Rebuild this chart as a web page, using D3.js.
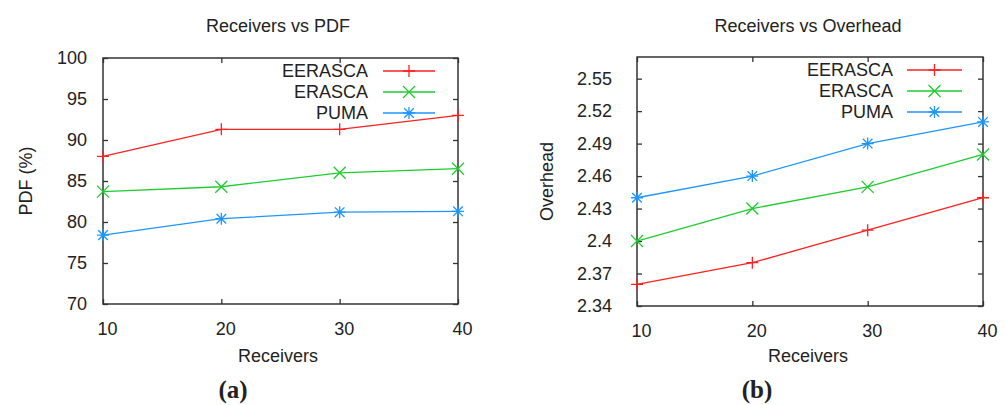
<!DOCTYPE html>
<html>
<head>
<meta charset="utf-8">
<script src="https://cdn.jsdelivr.net/npm/d3@7"></script>
<style>
  body { margin: 0; background: #fff; }
  text { font-family: "Liberation Sans", Arial, sans-serif; fill: #222; }
</style>
</head>
<body>
<div id="chart"></div>
<script>
const receivers = [10, 20, 30, 40];
const seriesNames = ["EERASCA", "ERASCA", "PUMA"];

// panel (a) PDF (%)
const pdfEerasca = [88, 91.3, 91.3, 93];
const pdfErasca = [83.7, 84.3, 86, 86.5];
const pdfPuma = [78.4, 80.4, 81.2, 81.3];
const pdfTicks = [70, 75, 80, 85, 90, 95, 100];

// panel (b) Overhead
const ovEerasca = [2.36, 2.38, 2.41, 2.44];
const ovErasca = [2.40, 2.43, 2.45, 2.48];
const ovPuma = [2.44, 2.46, 2.49, 2.51];
const ovTicks = [2.34, 2.37, 2.4, 2.43, 2.46, 2.49, 2.52, 2.55];

const colors = ["#ff2020", "#1ecc30", "#1e96ff"];
const markers = ["plus", "cross", "star"];

const svg = d3.select("#chart").append("svg")
    .attr("width", 1005).attr("height", 405);

function marker(g, type, x, y, color) {
    const s = 6;
    const p = d3.path();
    if (type == "plus" || type == "star") {
        p.moveTo(x - s, y); p.lineTo(x + s, y);
        p.moveTo(x, y - s); p.lineTo(x, y + s);
    }
    if (type == "cross" || type == "star") {
        const c = type == "star" ? s * 0.8 : s;
        p.moveTo(x - c, y - c); p.lineTo(x + c, y + c);
        p.moveTo(x - c, y + c); p.lineTo(x + c, y - c);
    }
    g.append("path").attr("d", p.toString())
        .attr("stroke", color).attr("stroke-width", 1.3).attr("fill", "none");
}

function panel(cfg) {
    const g = svg.append("g");
    const x = d3.scaleLinear().domain([10, 40]).range([cfg.left, cfg.right]);
    const y = d3.scaleLinear().domain(cfg.domain).range([cfg.bottom, cfg.top]);

    // frame
    g.append("rect")
        .attr("x", cfg.left).attr("y", cfg.top)
        .attr("width", cfg.right - cfg.left).attr("height", cfg.bottom - cfg.top)
        .attr("fill", "none").attr("stroke", "#333").attr("stroke-width", 1.5);

    // axes with inward ticks, mirrored (gnuplot style)
    const yAxisL = d3.axisLeft(y).tickValues(cfg.ticks).tickSize(-5).tickFormat(cfg.fmt).tickPadding(cfg.yPad);
    const yAxisR = d3.axisRight(y).tickValues(cfg.ticks).tickSize(-5).tickFormat("");
    const xAxisB = d3.axisBottom(x).tickValues(receivers).tickSize(-5).tickFormat(d3.format("d")).tickPadding(18);
    const xAxisT = d3.axisTop(x).tickValues(receivers).tickSize(-5).tickFormat("");

    const ga = [
        g.append("g").attr("transform", "translate(" + cfg.left + ",0)").call(yAxisL),
        g.append("g").attr("transform", "translate(" + cfg.right + ",0)").call(yAxisR),
        g.append("g").attr("transform", "translate(0," + cfg.bottom + ")").call(xAxisB),
        g.append("g").attr("transform", "translate(0," + cfg.top + ")").call(xAxisT)
    ];
    ga.forEach(a => {
        a.select(".domain").remove();
        a.selectAll("line").attr("stroke", "#333").attr("stroke-width", 1.3);
        a.selectAll("text").style("font-size", "18px").attr("fill", "#222")
            .style("font-family", "Liberation Sans, Arial, sans-serif");
    });
    ga[2].selectAll("text").attr("dx", 4);

    // series
    cfg.series.forEach((vals, i) => {
        const line = d3.line().x((d, j) => x(receivers[j])).y(d => y(d));
        g.append("path").datum(vals).attr("d", line)
            .attr("fill", "none").attr("stroke", colors[i]).attr("stroke-width", 1.3);
        vals.forEach((v, j) => marker(g, markers[i], x(receivers[j]), y(v), colors[i]));
    });

    // legend
    seriesNames.forEach((name, i) => {
        const ly = cfg.legY + i * 21;
        g.append("text").attr("x", cfg.legText).attr("y", ly + 6)
            .attr("text-anchor", "end").style("font-size", "18px").text(name);
        g.append("line").attr("x1", cfg.legLine[0]).attr("x2", cfg.legLine[1])
            .attr("y1", ly).attr("y2", ly)
            .attr("stroke", colors[i]).attr("stroke-width", 1.3);
        marker(g, markers[i], (cfg.legLine[0] + cfg.legLine[1]) / 2, ly, colors[i]);
    });

    // titles and labels
    g.append("text").attr("x", cfg.titleX).attr("y", 32).attr("text-anchor", "middle")
        .style("font-size", "18px").text(cfg.title);
    g.append("text").attr("x", cfg.titleX).attr("y", 362).attr("text-anchor", "middle")
        .style("font-size", "18px").text("Receivers");
    g.append("text")
        .attr("transform", "translate(" + cfg.yLabX + "," + (cfg.top + cfg.bottom) / 2 + ") rotate(-90)")
        .attr("text-anchor", "middle").style("font-size", "18px").text(cfg.yLabel);
    g.append("text").attr("x", cfg.tagX).attr("y", 398).attr("text-anchor", "middle")
        .style("font-family", "Liberation Serif, serif").style("font-weight", "bold")
        .style("font-size", "25px").text(cfg.tag);
}

panel({
    left: 103, right: 458, top: 58, bottom: 304,
    domain: [70, 100], ticks: pdfTicks, fmt: d3.format("d"), yPad: 16,
    series: [pdfEerasca, pdfErasca, pdfPuma],
    legY: 71, legText: 368, legLine: [383, 435],
    title: "Receivers vs PDF", titleX: 278, yLabel: "PDF (%)", yLabX: 32,
    tag: "(a)", tagX: 233
});

panel({
    left: 637, right: 983, top: 57, bottom: 306,
    domain: [2.34, 2.57], ticks: ovTicks, fmt: d => d3.format(".2f")(d).replace(/0$/, ""), yPad: 25,
    series: [ovEerasca, ovErasca, ovPuma],
    legY: 70, legText: 893, legLine: [907, 962],
    title: "Receivers vs Overhead", titleX: 808, yLabel: "Overhead", yLabX: 553,
    tag: "(b)", tagX: 757
});
</script>
</body>
</html>
